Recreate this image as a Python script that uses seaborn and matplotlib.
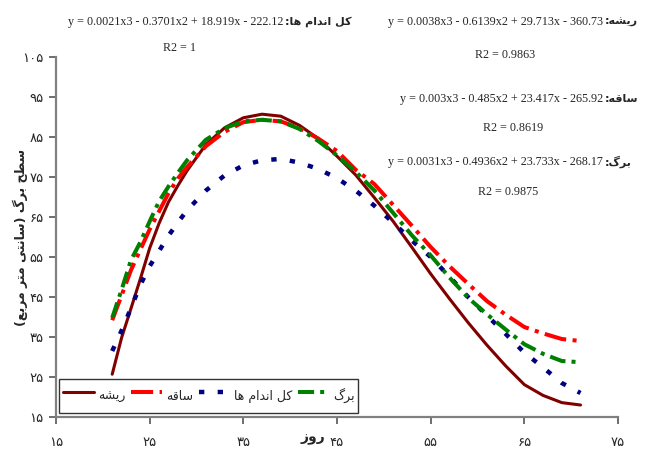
import numpy as np
import pandas as pd
import matplotlib.pyplot as plt
import seaborn as sns

# days after sowing
days = [21, 22, 23, 24, 25, 26, 27, 28, 29, 31, 33, 35, 37, 39, 41, 43, 45,
        47, 49, 51, 53, 55, 57, 59, 61, 63, 65, 67, 69, 71]

root = [25.7, 34.8, 42.1, 49.5, 57.2, 63.4, 68.7, 72.8, 76.6, 83.1, 87.3, 89.8,
        90.7, 90.2, 87.9, 84.6, 80.2, 75.5, 69.8, 63.9, 57.4, 50.8, 44.6, 38.6,
        33.0, 27.8, 23.1, 20.4, 18.6, 18.0]
stem = [39.2, 45.4, 51.7, 56.8, 61.9, 66.4, 70.9, 74.6, 77.5, 82.7, 86.3, 88.7,
        89.3, 88.9, 87.2, 84.6, 81.5, 76.8, 73.2, 68.0, 62.8, 57.5, 52.7, 48.3,
        44.0, 40.6, 37.5, 35.9, 34.5, 34.0]
whole = [31.5, 36.6, 42.2, 48.0, 52.7, 56.5, 60.3, 63.6, 66.7, 71.6, 75.4, 77.9,
         79.2, 79.5, 78.6, 77.0, 74.7, 71.6, 67.8, 63.6, 59.1, 55.0, 50.1, 45.0,
         40.4, 35.8, 31.1, 27.4, 23.5, 21.0]
leaf = [39.8, 46.8, 54.2, 58.7, 63.9, 68.9, 72.6, 76.0, 79.2, 84.3, 87.2, 88.9,
        89.3, 88.9, 87.0, 84.0, 80.4, 76.3, 71.6, 66.0, 60.4, 55.4, 49.9, 44.8,
        40.7, 36.9, 33.2, 30.8, 29.0, 28.7]

organs = ["ریشه", "ساقه", "کل اندام ها", "برگ"]
equations = [
    "y = 0.0038x3 - 0.6139x2 + 29.713x - 360.73",
    "y = 0.003x3 - 0.485x2 + 23.417x - 265.92",
    "y = 0.0021x3 - 0.3701x2 + 18.919x - 222.12",
    "y = 0.0031x3 - 0.4936x2 + 23.733x - 268.17",
]
r2_values = ["R2 = 0.9863", "R2 = 0.8619", "R2 = 1", "R2 = 0.9875"]

x_ticks = [15, 25, 35, 45, 55, 65, 75]
y_ticks = [15, 25, 35, 45, 55, 65, 75, 85, 95, 105]

colors = {"ریشه": "#800000", "ساقه": "#FF0000", "کل اندام ها": "#000080", "برگ": "#008000"}
widths = {"ریشه": 2.2, "ساقه": 2.9, "کل اندام ها": 3.2, "برگ": 2.9}
dashes = {"ریشه": "", "ساقه": (5.5, 1.6, 1.0, 1.6),
          "کل اندام ها": (1.2, 3.0), "برگ": (4.0, 1.5, 1.0, 1.5)}

# matplotlib has no arabic shaping, so pick the contextual forms by hand
FORMS = {
    "ا": ("\ufe8d", "\ufe8e"), "د": ("\ufea9", "\ufeaa"),
    "ر": ("\ufead", "\ufeae"), "ز": ("\ufeaf", "\ufeb0"),
    "و": ("\ufeed", "\ufeee"),
    "ب": ("\ufe8f", "\ufe90", "\ufe91", "\ufe92"),
    "ت": ("\ufe95", "\ufe96", "\ufe97", "\ufe98"),
    "ح": ("\ufea1", "\ufea2", "\ufea3", "\ufea4"),
    "س": ("\ufeb1", "\ufeb2", "\ufeb3", "\ufeb4"),
    "ش": ("\ufeb5", "\ufeb6", "\ufeb7", "\ufeb8"),
    "ط": ("\ufec1", "\ufec2", "\ufec3", "\ufec4"),
    "ع": ("\ufec9", "\ufeca", "\ufecb", "\ufecc"),
    "ق": ("\ufed5", "\ufed6", "\ufed7", "\ufed8"),
    "ل": ("\ufedd", "\ufede", "\ufedf", "\ufee0"),
    "م": ("\ufee1", "\ufee2", "\ufee3", "\ufee4"),
    "ن": ("\ufee5", "\ufee6", "\ufee7", "\ufee8"),
    "ه": ("\ufee9", "\ufeea", "\ufeeb", "\ufeec"),
    "ی": ("\ufbfc", "\ufbfd", "\ufbfe", "\ufbff"),
    "ک": ("\ufb8e", "\ufb8f", "\ufb90", "\ufb91"),
    "گ": ("\ufb92", "\ufb93", "\ufb94", "\ufb95"),
}


def fa(text):
    out = []
    for i, ch in enumerate(text):
        f = FORMS.get(ch)
        if f is None:
            out.append({"(": ")", ")": "("}.get(ch, ch))
            continue
        prev = FORMS.get(text[i - 1]) if i > 0 else None
        nxt = FORMS.get(text[i + 1]) if i + 1 < len(text) else None
        join_prev = prev is not None and len(prev) == 4
        join_next = nxt is not None and len(f) == 4
        if join_prev and join_next:
            out.append(f[3])
        elif join_prev:
            out.append(f[1])
        elif join_next:
            out.append(f[2])
        else:
            out.append(f[0])
    return "".join(reversed(out))


def fa_num(n):
    return str(n).translate(str.maketrans("0123456789", "۰۱۲۳۴۵۶۷۸۹"))


df = pd.DataFrame({
    "day": days * 4,
    "area": root + stem + whole + leaf,
    "organ": np.repeat(organs, len(days)),
})

sns.set_style("white")
plt.rcParams["font.family"] = ["Liberation Serif", "DejaVu Sans"]

fig, ax = plt.subplots(figsize=(6.49, 4.61), dpi=100)
fig.subplots_adjust(left=0.0863, right=0.9522, bottom=0.0954, top=0.8764)

sns.lineplot(data=df, x="day", y="area", hue="organ", size="organ", style="organ",
             hue_order=organs, size_order=organs, style_order=organs,
             palette=colors, sizes=widths, dashes=dashes, legend=False, ax=ax)

ax.set_xlim(15, 75)
ax.set_ylim(15, 105)
ax.set_xticks(x_ticks)
ax.set_xticklabels([fa_num(t) for t in x_ticks], family="DejaVu Sans", fontsize=9.5)
ax.set_yticks(y_ticks)
ax.set_yticklabels([fa_num(t) for t in y_ticks], family="DejaVu Sans", fontsize=9.5)
ax.tick_params(axis="x", bottom=True, direction="out", length=5, width=1.2,
               color="#555555", pad=9)
ax.tick_params(axis="y", left=True, direction="out", length=5, width=1.2,
               color="#555555", pad=4)
for side in ["top", "right"]:
    ax.spines[side].set_visible(False)
for side in ["left", "bottom"]:
    ax.spines[side].set_color("#808080")
    ax.spines[side].set_linewidth(1.6)

ax.set_xlabel("")
ax.set_ylabel(fa("سطح برگ (سانتی متر مربع)"), family="DejaVu Sans",
              fontweight="bold", fontsize=9)
ax.yaxis.set_label_coords(-0.05, 0.5)
fig.text(313 / 649, 1 - 438 / 461, fa("روز"), family="DejaVu Sans",
         fontweight="bold", fontsize=10, ha="center", va="center")

leg = ax.legend(ax.get_lines()[:4], [fa(o) for o in organs], ncol=4,
                loc="lower left", bbox_to_anchor=(0.006, 0.010),
                frameon=True, fancybox=False, borderaxespad=0,
                handlelength=2.5, handleheight=2.9, handletextpad=0.3,
                columnspacing=0.45, borderpad=0.3,
                prop={"family": "DejaVu Sans", "size": 9})
leg.get_frame().set_edgecolor("black")
leg.get_frame().set_linewidth(1.0)

# trend line equations, placed like the excel labels: (right edge of eq, y, R2 centre, R2 y)
label_pos = [(603, 22, 505, 55), (603, 99, 513, 128), (283, 22, 180, 48), (603, 162, 508, 192)]
for organ, eq, r2, (xr, ye, xc, yr) in zip(organs, equations, r2_values, label_pos):
    fig.text(xr / 649, 1 - ye / 461, eq, family="Liberation Serif", fontsize=8.7,
             ha="right", va="center")
    fig.text((xr + 2) / 649, 1 - ye / 461, ":" + fa(organ), family="DejaVu Sans",
             fontweight="bold", fontsize=8, ha="left", va="center")
    fig.text(xc / 649, 1 - yr / 461, r2, family="Liberation Serif", fontsize=8.7,
             ha="center", va="center")

fig.savefig("out.png", dpi=100)
